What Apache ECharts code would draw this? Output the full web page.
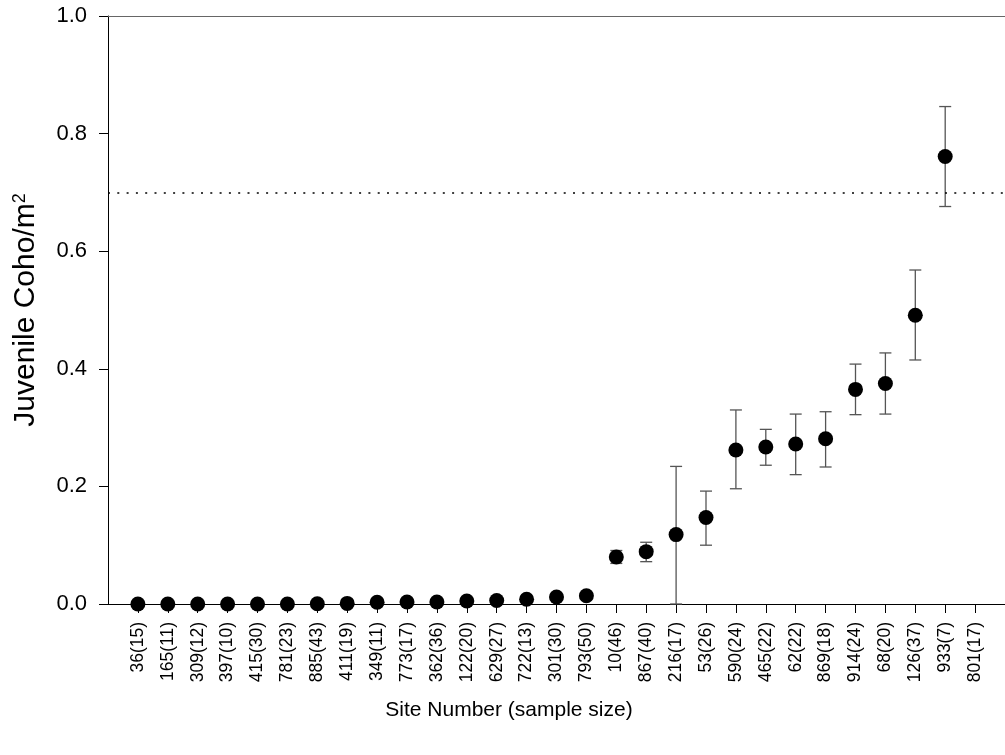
<!DOCTYPE html>
<html>
<head>
<meta charset="utf-8">
<script src="https://cdn.jsdelivr.net/npm/echarts@6/dist/echarts.min.js"></script>
<style>html,body{margin:0;padding:0;background:#fff}#c{width:1005px;height:755px}</style>
</head>
<body>
<div id="c"></div>
<script>
const siteLabels = ['36(15)','165(11)','309(12)','397(10)','415(30)','781(23)','885(43)','411(19)','349(11)','773(17)','362(36)','122(20)','629(27)','722(13)','301(30)','793(50)','10(46)','867(40)','216(17)','53(26)','590(24)','465(22)','62(22)','869(18)','914(24)','68(20)','126(37)','933(7)','801(17)'];
const meanDensity = [0,0,0,0,0,0,0.0005,0.001,0.003,0.0035,0.0035,0.005,0.006,0.008,0.012,0.014,0.080,0.089,0.118,0.147,0.262,0.267,0.272,0.281,0.365,0.375,0.491,0.761,null];
const errLower = [null,null,null,null,null,null,null,null,null,null,null,null,null,null,null,null,0.069,0.072,0,0.100,0.196,0.236,0.220,0.233,0.322,0.323,0.415,0.676,null];
const errUpper = [null,null,null,null,null,null,null,null,null,null,null,null,null,null,null,null,0.091,0.105,0.234,0.192,0.330,0.297,0.323,0.327,0.408,0.427,0.568,0.846,null];
const yTicks = [0,0.2,0.4,0.6,0.8,1.0];
const referenceLevel = 0.7;

const FONT = 'Liberation Sans, Arial, sans-serif';
const idx = siteLabels.map((_, i) => i);
const pts = [];
meanDensity.forEach((v, i) => { if (v !== null) pts.push([i, v]); });
const bars = [];
errLower.forEach((lo, i) => { if (lo !== null && errUpper[i] !== null) bars.push([i, lo, errUpper[i]]); });

const chart = echarts.init(document.getElementById('c'), null, {renderer: 'canvas'});
chart.setOption({
  backgroundColor: '#fff',
  animation: false,
  grid: {left: 108, top: 16, width: 900, height: 588, containLabel: false},
  xAxis: [{
    type: 'value', min: -1, max: 29,
    axisLine: {show: true, onZero: false, lineStyle: {color: '#000', width: 1}},
    axisTick: {show: true, length: 9, customValues: idx, lineStyle: {color: '#000'}},
    axisLabel: {show: true, customValues: idx, rotate: 90, margin: 18, fontSize: 17.5, fontFamily: FONT, color: '#000',
      formatter: v => siteLabels[Math.round(v)]},
    splitLine: {show: false}
  }, {
    type: 'value', position: 'top', min: -1, max: 29,
    axisLine: {show: true, onZero: false, lineStyle: {color: '#666', width: 1.2}},
    axisTick: {show: false}, axisLabel: {show: false}, splitLine: {show: false}
  }],
  yAxis: {
    type: 'value', min: 0, max: 1, interval: 0.2,
    name: 'Juvenile Coho/m{sup|2}', nameLocation: 'middle', nameGap: 67, nameRotate: 90,
    nameTextStyle: {fontSize: 30, fontFamily: FONT, color: '#000',
      rich: {sup: {fontSize: 18, fontFamily: FONT, color: '#000', verticalAlign: 'top', padding: [0, 0, 12, 0]}}},
    axisLine: {show: true, onZero: false, lineStyle: {color: '#000', width: 1}},
    axisTick: {show: true, length: 9, lineStyle: {color: '#000'}},
    axisLabel: {margin: 21, fontSize: 22, fontFamily: FONT, color: '#000', formatter: v => v.toFixed(1)},
    splitLine: {show: false}
  },
  graphic: [{
    type: 'text', x: 509, y: 710,
    style: {text: 'Site Number (sample size)', font: '21px ' + FONT, fill: '#000', align: 'center', verticalAlign: 'middle'}
  }],
  series: [{
    type: 'custom', xAxisIndex: 0, yAxisIndex: 0, z: 2,
    data: bars,
    encode: {x: 0, y: [1, 2]},
    renderItem: function (params, api) {
      const x = api.value(0), lo = api.value(1), hi = api.value(2);
      const a = api.coord([x, lo]), b = api.coord([x, hi]);
      const hw = 6;
      const st = {stroke: '#555', lineWidth: 1.3};
      return {type: 'group', children: [
        {type: 'line', shape: {x1: a[0], y1: a[1], x2: b[0], y2: b[1]}, style: st},
        {type: 'line', shape: {x1: a[0] - hw, y1: a[1], x2: a[0] + hw, y2: a[1]}, style: st},
        {type: 'line', shape: {x1: b[0] - hw, y1: b[1], x2: b[0] + hw, y2: b[1]}, style: st}
      ]};
    }
  }, {
    type: 'scatter', xAxisIndex: 0, yAxisIndex: 0, z: 3,
    symbol: 'circle', symbolSize: 15,
    itemStyle: {color: '#000', opacity: 1},
    data: pts,
    markLine: {
      silent: true, symbol: ['none', 'none'], label: {show: false},
      lineStyle: {color: '#000', width: 1.6, type: [2, 7.3], opacity: 1},
      data: [{yAxis: referenceLevel}]
    }
  }]
});
</script>
</body>
</html>
